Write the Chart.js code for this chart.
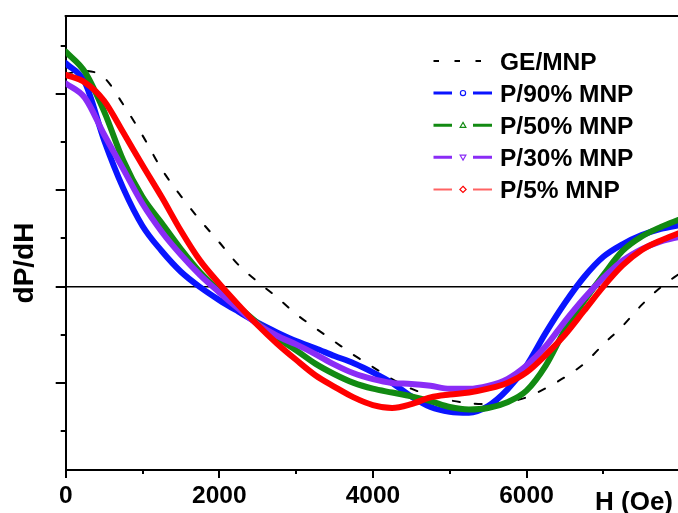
<!DOCTYPE html>
<html>
<head>
<meta charset="utf-8">
<script src="https://cdn.jsdelivr.net/npm/chart.js@4.4.1/dist/chart.umd.min.js"></script>
<style>
  html, body { margin: 0; padding: 0; background: #fff; overflow: hidden; }
  #wrap { width: 690px; height: 513px; overflow: hidden; }
</style>
</head>
<body>
<div id="wrap"><canvas id="chart" width="690" height="530"></canvas></div>
<script>
(function () {
  'use strict';

  // applied field H (Oe), one reading every 250 Oe
  var field = [0, 250, 500, 750, 1000, 1250, 1500, 1750, 2000, 2250, 2500, 2750, 3000,
    3250, 3500, 3750, 4000, 4250, 4500, 4750, 5000, 5250, 5500, 5750, 6000, 6250,
    6500, 6750, 7000, 7250, 7500, 7750, 8000];

  // dP/dH, arbitrary units (one major y tick = 1)
  var geMnp = [2.21, 2.24, 2.17, 1.89, 1.57, 1.22, 0.94, 0.69, 0.46, 0.225, 0.05, -0.11, -0.285,
    -0.43, -0.57, -0.71, -0.835, -0.96, -1.06, -1.13, -1.18, -1.21, -1.22, -1.20, -1.15, -1.055,
    -0.94, -0.80, -0.60, -0.41, -0.19, -0.005, 0.14];
  var p90 = [2.32, 2.12, 1.52, 1.02, 0.63, 0.37, 0.155, -0.005, -0.14, -0.26, -0.375, -0.475, -0.565,
    -0.64, -0.72, -0.795, -0.89, -1.0, -1.14, -1.25, -1.30, -1.31, -1.24, -1.07, -0.82, -0.48,
    -0.17, 0.10, 0.31, 0.44, 0.535, 0.60, 0.64];
  var p50 = [2.44, 2.23, 1.82, 1.31, 0.93, 0.66, 0.39, 0.15, -0.04, -0.21, -0.38, -0.53, -0.66,
    -0.80, -0.91, -1.0, -1.06, -1.10, -1.14, -1.19, -1.25, -1.275, -1.26, -1.20, -1.08, -0.82,
    -0.45, -0.15, 0.12, 0.37, 0.52, 0.62, 0.70];
  var p30 = [2.11, 1.96, 1.58, 1.22, 0.86, 0.57, 0.33, 0.12, -0.06, -0.23, -0.39, -0.51, -0.60,
    -0.70, -0.81, -0.90, -0.96, -1.0, -1.01, -1.03, -1.06, -1.06, -1.03, -0.96, -0.82, -0.62,
    -0.36, -0.12, 0.09, 0.27, 0.39, 0.47, 0.52];
  var p5 = [2.20, 2.12, 1.93, 1.60, 1.26, 0.93, 0.58, 0.27, 0.03, -0.19, -0.40, -0.59, -0.76,
    -0.92, -1.04, -1.15, -1.23, -1.26, -1.22, -1.15, -1.12, -1.10, -1.06, -1.0, -0.89, -0.71,
    -0.50, -0.25, 0.0, 0.22, 0.38, 0.48, 0.56];

  var seriesNames = ['GE/MNP', 'P/90% MNP', 'P/50% MNP', 'P/30% MNP', 'P/5% MNP'];

  // axis ticks
  var xMajor = [0, 2000, 4000, 6000, 8000];
  var xMinor = [1000, 3000, 5000, 7000];
  var xShown = [0, 2000, 4000, 6000];
  var yMajor = [-1, 0, 1, 2];
  var yMinor = [-1.5, -0.5, 0.5, 1.5, 2.5];

  var FAMILY = '"Liberation Sans", Arial, sans-serif';

  function pts(arr) {
    return field.map(function (h, i) {
      return { x: h, y: arr[i] };
    });
  }

  function marker(ctx, style, x, y, r) {
    ctx.beginPath();
    if (style === 'circle') {
      ctx.arc(x, y, r, 0, Math.PI * 2);
    } else if (style === 'triUp') {
      ctx.moveTo(x, y - r * 1.1);
      ctx.lineTo(x + r * 1.1, y + r * 0.8);
      ctx.lineTo(x - r * 1.1, y + r * 0.8);
      ctx.closePath();
    } else if (style === 'triDown') {
      ctx.moveTo(x, y + r * 1.1);
      ctx.lineTo(x + r * 1.1, y - r * 0.8);
      ctx.lineTo(x - r * 1.1, y - r * 0.8);
      ctx.closePath();
    } else if (style === 'diamond') {
      ctx.moveTo(x, y - r * 1.2);
      ctx.lineTo(x + r * 1.2, y);
      ctx.lineTo(x, y + r * 1.2);
      ctx.lineTo(x - r * 1.2, y);
      ctx.closePath();
    }
    ctx.fillStyle = '#fff';
    ctx.fill();
    ctx.stroke();
  }

  var framePlugin = {
    id: 'frame',
    afterDraw: function (chart) {
      var ctx = chart.ctx;
      var a = chart.chartArea;
      var xs = chart.scales.x;
      var ys = chart.scales.y;
      ctx.save();
      ctx.strokeStyle = '#000';
      ctx.lineWidth = 2;

      // top frame line
      ctx.beginPath();
      ctx.moveTo(a.left - 1, Math.round(a.top));
      ctx.lineTo(chart.width, Math.round(a.top));
      ctx.stroke();

      // tick marks, outward
      function yTick(v, len) {
        var p = Math.round(ys.getPixelForValue(v));
        ctx.beginPath();
        ctx.moveTo(a.left - len, p);
        ctx.lineTo(a.left, p);
        ctx.stroke();
      }
      function xTick(v, len) {
        var p = Math.round(xs.getPixelForValue(v));
        ctx.beginPath();
        ctx.moveTo(p, a.bottom);
        ctx.lineTo(p, a.bottom + len);
        ctx.stroke();
      }
      yMajor.forEach(function (v) { yTick(v, 10); });
      yMinor.forEach(function (v) { yTick(v, 5); });
      xMajor.forEach(function (v) { xTick(v, 8.5); });
      xMinor.forEach(function (v) { xTick(v, 4.5); });

      // axis titles
      ctx.fillStyle = '#000';
      ctx.font = 'bold 26px ' + FAMILY;
      ctx.textAlign = 'left';
      ctx.textBaseline = 'alphabetic';
      ctx.fillText('H (Oe)', 595, 509.5);

      ctx.save();
      ctx.translate(33, 263);
      ctx.rotate(-Math.PI / 2);
      ctx.font = 'bold 28px ' + FAMILY;
      ctx.textAlign = 'center';
      ctx.fillText('dP/dH', 0, 0);
      ctx.restore();

      // legend
      chart.data.datasets.forEach(function (ds, i) {
        var cy = 61 + 32.1 * i;
        ctx.strokeStyle = ds.legendLine;
        if (ds.legendMarker) {
          ctx.lineWidth = ds.legendWidth;
          ctx.setLineDash([]);
          ctx.beginPath();
          ctx.moveTo(433.5, cy);
          ctx.lineTo(452, cy);
          ctx.moveTo(473, cy);
          ctx.lineTo(492, cy);
          ctx.stroke();
          ctx.strokeStyle = ds.borderColor;
          ctx.lineWidth = 1.2;
          marker(ctx, ds.legendMarker, 463, cy, 2.6);
        } else {
          ctx.lineWidth = 2;
          ctx.setLineDash([5.5, 15.5]);
          ctx.beginPath();
          ctx.moveTo(433.5, cy);
          ctx.lineTo(492, cy);
          ctx.stroke();
          ctx.setLineDash([]);
        }
        ctx.fillStyle = '#000';
        ctx.font = 'bold 24.5px ' + FAMILY;
        ctx.textAlign = 'left';
        ctx.textBaseline = 'alphabetic';
        ctx.fillText(ds.label, 500, cy + 8.8);
      });
      ctx.restore();
    }
  };

  new Chart(document.getElementById('chart'), {
    type: 'line',
    data: {
      datasets: [
        { label: seriesNames[0], data: pts(geMnp), borderColor: '#000', borderWidth: 2,
          borderDash: [7, 15], legendLine: '#000', order: 5 },
        { label: seriesNames[1], data: pts(p90), borderColor: '#0a14ff', borderWidth: 6,
          legendLine: '#0a14ff', legendWidth: 3, legendMarker: 'circle', order: 4 },
        { label: seriesNames[2], data: pts(p50), borderColor: '#128a12', borderWidth: 6,
          legendLine: '#128a12', legendWidth: 3, legendMarker: 'triUp', order: 3 },
        { label: seriesNames[3], data: pts(p30), borderColor: '#8a2cf6', borderWidth: 6,
          legendLine: '#8a2cf6', legendWidth: 3, legendMarker: 'triDown', order: 2 },
        { label: seriesNames[4], data: pts(p5), borderColor: '#ff0000', borderWidth: 6,
          legendLine: 'rgba(255,60,60,0.8)', legendWidth: 2, legendMarker: 'diamond', order: 1 }
      ]
    },
    options: {
      responsive: false,
      animation: false,
      events: [],
      layout: { padding: { left: 65.7, top: 16, right: 9.9, bottom: 14.4 } },
      elements: {
        point: { radius: 0 },
        line: { cubicInterpolationMode: 'monotone', borderCapStyle: 'round', borderJoinStyle: 'round' }
      },
      plugins: { legend: { display: false }, tooltip: { enabled: false } },
      scales: {
        x: {
          type: 'linear',
          min: 0,
          max: 8000,
          afterBuildTicks: function (s) {
            s.ticks = xMajor.map(function (v) { return { value: v }; });
          },
          ticks: {
            autoSkip: false,
            maxRotation: 0,
            padding: 4.3,
            color: '#000',
            font: { family: FAMILY, size: 24.5, weight: 'bold' },
            callback: function (v) {
              return xShown.indexOf(v) >= 0 ? String(v) : '';
            }
          },
          grid: { display: false },
          border: { display: true, color: '#000', width: 2 }
        },
        y: {
          min: -1.9,
          max: 2.81,
          afterBuildTicks: function (s) {
            s.ticks = [{ value: 0 }];
          },
          ticks: { display: false },
          grid: { drawTicks: false, color: '#000', lineWidth: 1.6 },
          border: { display: true, color: '#000', width: 2 }
        }
      }
    },
    plugins: [framePlugin]
  });
})();
</script>
</body>
</html>
